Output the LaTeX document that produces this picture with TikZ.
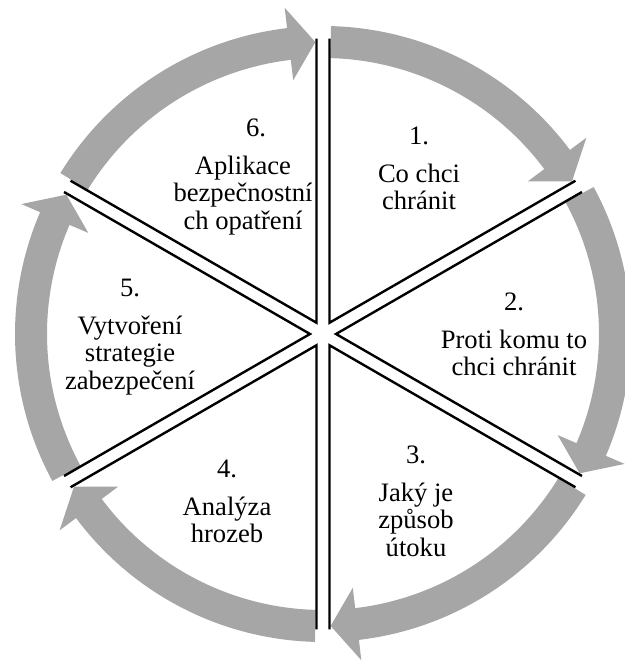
\documentclass[tikz,border=0pt]{standalone}
\usepackage{fontspec}
\setmainfont{Liberation Serif}
\usepackage{tikz}
\definecolor{ringgray}{RGB}{166,166,166}
\tikzset{spoke/.style={line width=2.4pt, line join=miter}}
\tikzset{ringpart/.style={fill=ringgray}}
\tikzset{steplabel/.style={align=center, inner sep=0pt, anchor=north, font=\fontsize{26.6}{27.5}\selectfont}}
\newcommand{\cyclearrow}[1]{%
    \fill[ringpart] ({#1-1.5}:308) arc[start angle={#1-1.5}, end angle={#1-53.3}, radius=308]
        -- ({#1-53.3}:328.5) -- ({#1-58.5}:292) -- ({#1-53.3}:255.5) -- ({#1-53.3}:276)
        arc[start angle={#1-53.3}, end angle={#1-1.5}, radius=276] -- cycle;}
\newcommand{\cyclewedge}[2]{%
    \coordinate (#2) at ({#1-30}:13);
    \draw[spoke] ([shift={(#1:284)}]#2) -- (#2) -- ([shift={({#1-60}:284)}]#2);}

\begin{document}
\begin{tikzpicture}[x=1pt, y=1pt]
    \useasboundingbox (-323,-327) rectangle (301,334);
    \cyclearrow{90}
    \cyclearrow{30}
    \cyclearrow{-30}
    \cyclearrow{-90}
    \cyclearrow{-150}
    \cyclearrow{-210}
    \cyclewedge{90}{v1}
    \cyclewedge{30}{v2}
    \cyclewedge{-30}{v3}
    \cyclewedge{-90}{v4}
    \cyclewedge{-150}{v5}
    \cyclewedge{-210}{v6}
    \node[steplabel] (s1) at (96, 207) {1.\\[10pt] Co chci\\ chránit};
    \node[steplabel] (s2) at (191, 41) {2.\\[10pt] Proti komu to\\ chci chránit};
    \node[steplabel] (s3) at (93, -112) {3.\\[10pt] Jaký je\\ způsob\\ útoku};
    \node[steplabel] (s4) at (-96, -126) {4.\\[10pt] Analýza\\ hrozeb};
    \node[steplabel] (s5) at (-193, 55) {5.\\[10pt] Vytvoření\\ strategie\\ zabezpečení};
    \node[steplabel] (s6) at (-80, 215) {\hspace*{26pt}6.\\[10pt] Aplikace\\ bezpečnostní\\ ch opatření};
\end{tikzpicture}
\end{document}
